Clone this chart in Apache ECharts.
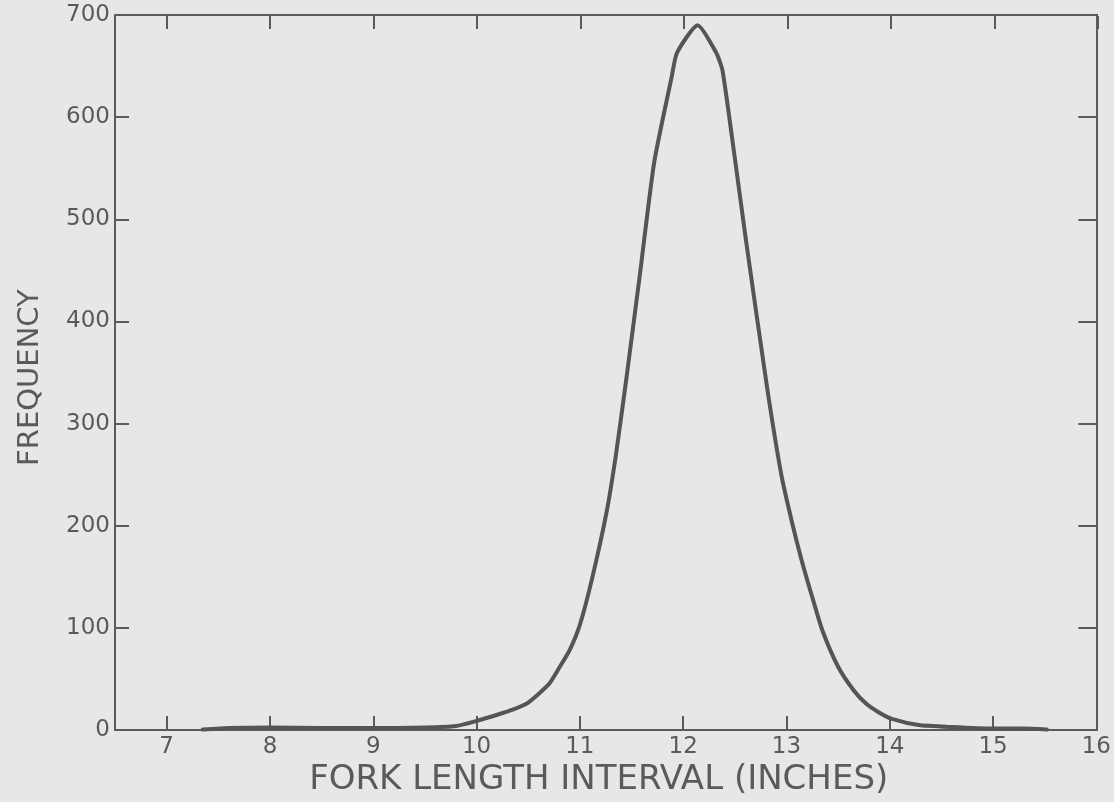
<!DOCTYPE html>
<html>
<head>
<meta charset="utf-8">
<script src="https://cdn.jsdelivr.net/npm/echarts@6/dist/echarts.min.js"></script>
<style>
  html, body { margin: 0; padding: 0; background: #e7e7e5; }
  #chart { width: 1114px; height: 802px; }
</style>
</head>
<body>
<div id="chart"></div>
<script>
// Fork length (inches) and frequency
const forkLength = [7.35, 7.6, 8.0, 8.5, 9.0, 9.5, 9.8, 10.0, 10.2, 10.35, 10.5, 10.7, 10.8, 10.9, 11.0, 11.12, 11.26, 11.35, 11.45, 11.58, 11.72, 11.89, 11.94, 12.14, 12.32, 12.38, 12.48, 12.61, 12.81, 12.95, 13.05, 13.15, 13.25, 13.35, 13.5, 13.65, 13.77, 13.9, 14.02, 14.28, 14.6, 15.0, 15.3, 15.52];
const frequency  = [0.5, 2, 2.5, 2, 2, 2.5, 4, 9, 15, 20, 27, 45, 61, 78, 103, 149, 214, 270, 344, 445, 556, 640, 663, 690, 663, 646, 575, 478, 337, 250, 205, 165, 130, 97, 62, 39, 26, 17, 11, 5, 3, 1.5, 1.5, 0.5];
const xTicks = [7, 8, 9, 10, 11, 12, 13, 14, 15, 16];

const seriesData = forkLength.map((x, i) => [x, frequency[i]]);

const ink = '#5a5a5a';
const font = '"DejaVu Sans", Lato, sans-serif';

// plot frame geometry
const W = 1114, H = 802;
const gridLeft = 115, gridRight = 16, gridTop = 15, gridBottom = 69;
const xMin = 6.5, xMax = 16;
const pxPerInch = (W - gridLeft - gridRight) / (xMax - xMin);
const topGridLeft = gridLeft + (7 - xMin) * pxPerInch;

const chart = echarts.init(document.getElementById('chart'), null, { renderer: 'canvas' });
chart.setOption({
  backgroundColor: '#e7e7e5',
  animation: false,
  grid: [
    { left: gridLeft, right: gridRight, top: gridTop, bottom: gridBottom },
    { left: topGridLeft, right: gridRight, top: gridTop, height: 1 }
  ],
  xAxis: [
    {
      gridIndex: 0, type: 'value', min: xMin, max: xMax, position: 'bottom',
      name: 'FORK LENGTH INTERVAL (INCHES)', nameLocation: 'middle', nameGap: 32,
      nameTextStyle: { fontFamily: font, fontSize: 34, color: ink, padding: [0, 14, 0, 0] },
      axisLine: { show: true, lineStyle: { color: ink, width: 2 } },
      axisTick: { show: true, inside: true, length: 14, customValues: xTicks, lineStyle: { color: ink, width: 2 } },
      axisLabel: { customValues: xTicks, fontFamily: font, fontSize: 23, color: ink, margin: 5 },
      splitLine: { show: false }
    },
    {
      // top frame ticks at whole inches (7..16)
      gridIndex: 1, type: 'value', min: 7, max: 16, interval: 1, position: 'top',
      axisLine: { show: false },
      axisTick: { show: true, inside: true, length: 13, lineStyle: { color: ink, width: 2 } },
      axisLabel: { show: false },
      splitLine: { show: false }
    }
  ],
  yAxis: [
    {
      gridIndex: 0, type: 'value', min: 0, max: 700, interval: 100, position: 'left',
      name: 'FREQUENCY', nameLocation: 'middle', nameGap: 70, nameRotate: 90,
      nameTextStyle: { fontFamily: font, fontSize: 29, color: ink, padding: [0, 10, 0, 0] },
      axisLine: { show: true, lineStyle: { color: ink, width: 2 } },
      axisTick: { show: true, inside: true, length: 14, lineStyle: { color: ink, width: 2 } },
      axisLabel: { fontFamily: font, fontSize: 23, color: ink, margin: 5 },
      splitLine: { show: false }
    },
    {
      gridIndex: 0, type: 'value', min: 0, max: 700, interval: 100, position: 'right',
      axisLine: { show: true, lineStyle: { color: ink, width: 2 } },
      axisTick: { show: true, inside: true, length: 18, lineStyle: { color: ink, width: 2 } },
      axisLabel: { show: false },
      splitLine: { show: false }
    },
    {
      gridIndex: 1, type: 'value', min: 0, max: 1, show: false
    }
  ],
  graphic: [
    {
      // top frame line
      type: 'line', silent: true,
      shape: { x1: gridLeft, y1: gridTop, x2: W - gridRight, y2: gridTop },
      style: { stroke: ink, lineWidth: 2 }
    }
  ],
  series: [
    {
      type: 'line',
      data: seriesData,
      xAxisIndex: 0, yAxisIndex: 0,
      showSymbol: false,
      smooth: 0.2,
      lineStyle: { color: '#555555', width: 4, cap: 'round', join: 'round' }
    }
  ]
});
</script>
</body>
</html>
